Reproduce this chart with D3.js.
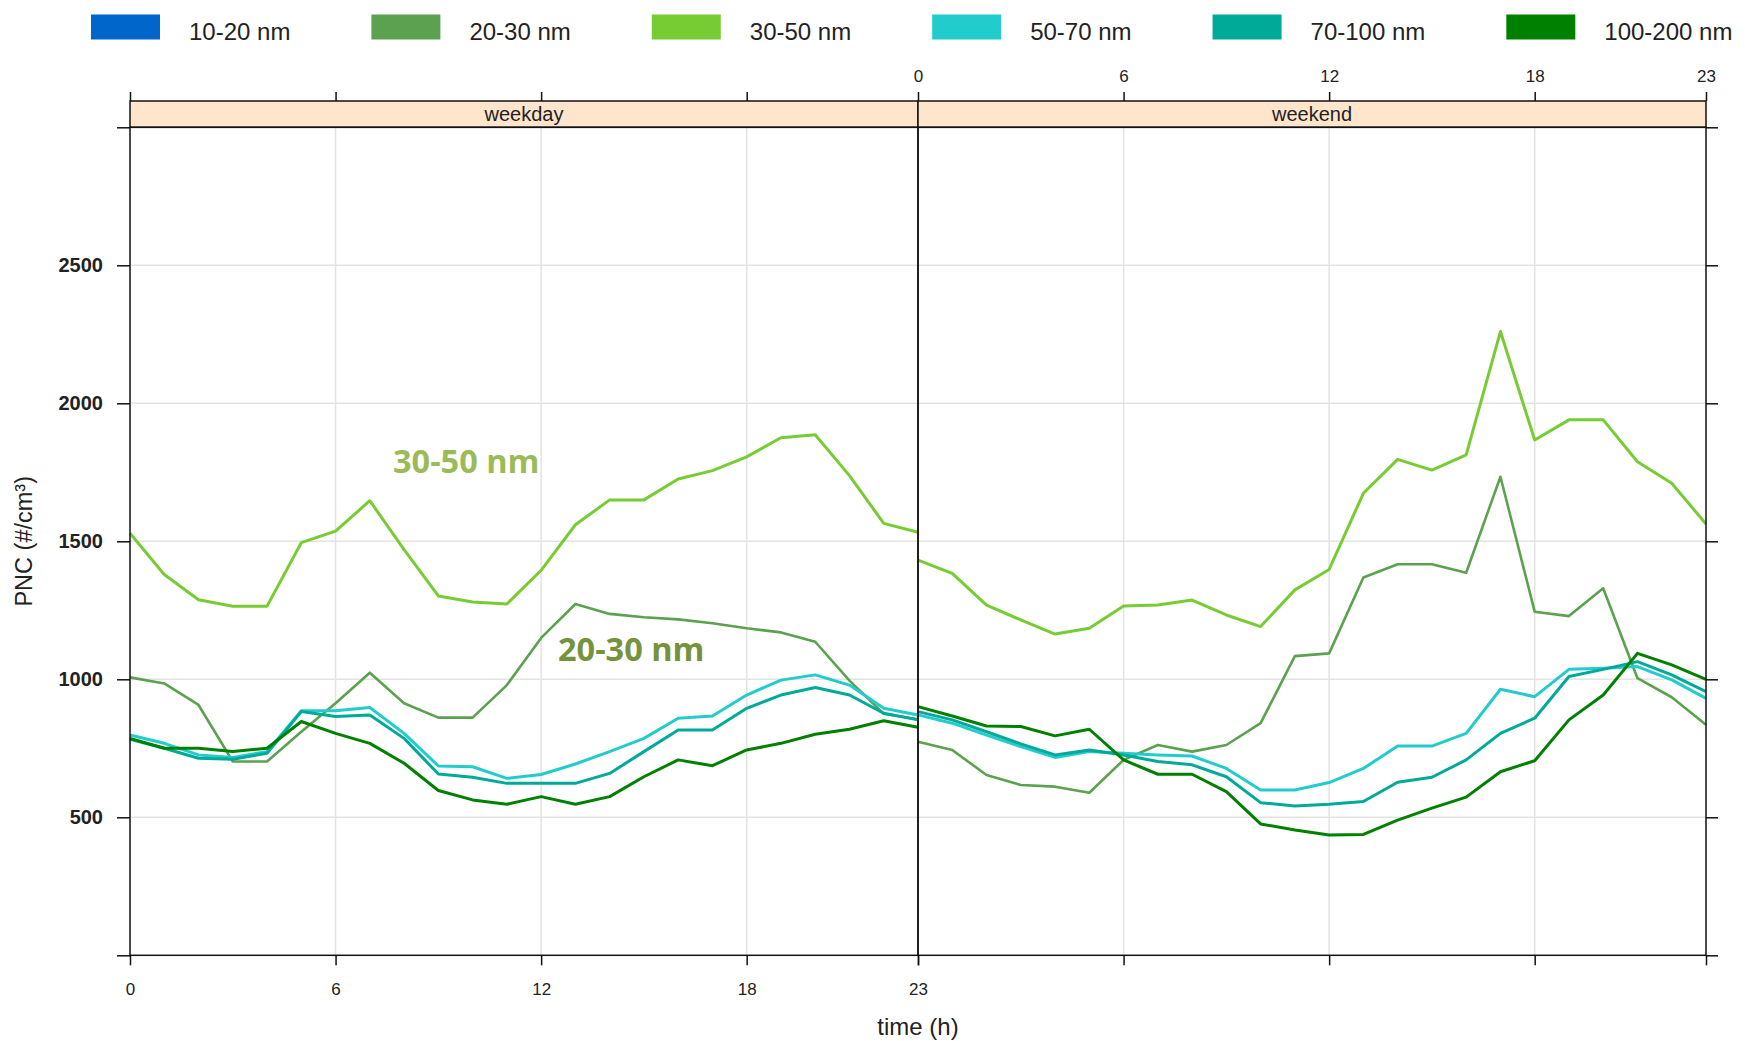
<!DOCTYPE html>
<html>
<head>
<meta charset="utf-8">
<script src="https://cdn.jsdelivr.net/npm/d3@7/dist/d3.min.js"></script>
<style>
  body { margin: 0; background: #fff; }
  svg { display: block; font-family: "Liberation Sans", Arial, sans-serif; }
</style>
</head>
<body>
<div id="my_dataviz"></div>
<script>
// hours of the day
const hours = [0, 1, 2, 3, 4, 5, 6, 7, 8, 9, 10, 11, 12, 13, 14, 15, 16, 17, 18, 19, 20, 21, 22, 23];
const sizeBins = ["10-20 nm", "20-30 nm", "30-50 nm", "50-70 nm", "70-100 nm", "100-200 nm"];
const binColors = ["#0066cc", "#5ba150", "#77cc33", "#22cccc", "#00aa99", "#008000"];
const dayTypes = ["weekday", "weekend"];

// PNC (#/cm3)
const weekday20_30 = [1007, 985, 907, 702, 702, 810, 913, 1024, 913, 861, 861, 979, 1150, 1273, 1237, 1225, 1217, 1203, 1185, 1170, 1136, 995, 875, 855];
const weekday30_50 = [1529, 1380, 1288, 1265, 1265, 1495, 1537, 1647, 1470, 1302, 1280, 1273, 1395, 1560, 1650, 1650, 1726, 1756, 1806, 1875, 1886, 1738, 1565, 1533];
const weekday50_70 = [798, 768, 726, 717, 738, 886, 886, 898, 804, 686, 683, 641, 655, 693, 738, 786, 859, 867, 943, 997, 1016, 979, 895, 871];
const weekday70_100 = [783, 750, 714, 710, 732, 883, 865, 871, 786, 657, 645, 623, 623, 623, 659, 738, 816, 816, 895, 943, 970, 943, 877, 853];
const weekday100_200 = [786, 750, 750, 738, 750, 847, 804, 768, 696, 597, 563, 547, 575, 547, 575, 647, 708, 687, 744, 768, 801, 819, 850, 826];

const weekend20_30 = [774, 744, 653, 617, 611, 589, 708, 762, 738, 762, 841, 1084, 1094, 1369, 1417, 1417, 1386, 1734, 1245, 1229, 1330, 1004, 935, 835];
const weekend30_50 = [1432, 1384, 1269, 1215, 1164, 1185, 1266, 1269, 1287, 1233, 1191, 1324, 1398, 1674, 1797, 1758, 1813, 2260, 1867, 1940, 1940, 1788, 1710, 1563];
const weekend50_70 = [871, 841, 798, 756, 717, 738, 732, 726, 722, 677, 599, 599, 626, 677, 758, 758, 804, 964, 937, 1036, 1040, 1046, 998, 931];
const weekend70_100 = [883, 853, 810, 766, 726, 744, 726, 702, 690, 647, 553, 541, 547, 557, 627, 645, 708, 804, 859, 1010, 1036, 1064, 1016, 955];
const weekend100_200 = [901, 867, 831, 829, 795, 819, 708, 656, 656, 593, 476, 454, 436, 438, 490, 533, 573, 665, 705, 853, 943, 1094, 1052, 1000];

const yTicks = [0, 500, 1000, 1500, 2000, 2500, 3000];
const yLabels = [500, 1000, 1500, 2000, 2500];
const xTicks = [0, 6, 12, 18, 23];
const gridHours = [6, 12, 18];
const gridValues = [500, 1000, 1500, 2000, 2500];

// 10-20 nm has no line in the figure
const series = [
  { bin: "20-30 nm", weekday: weekday20_30, weekend: weekend20_30, w: 2.6 },
  { bin: "30-50 nm", weekday: weekday30_50, weekend: weekend30_50, w: 3 },
  { bin: "50-70 nm", weekday: weekday50_70, weekend: weekend50_70, w: 3 },
  { bin: "70-100 nm", weekday: weekday70_100, weekend: weekend70_100, w: 3 },
  { bin: "100-200 nm", weekday: weekday100_200, weekend: weekend100_200, w: 3 }
];

const W = 1745, H = 1041;
const panelTop = 127.3, panelBottom = 955.3, stripTop = 101;
const panelX = [[130, 918], [918, 1706]];

const color = d3.scaleOrdinal().domain(sizeBins).range(binColors);

let svg = d3.select("#my_dataviz")
  .append("svg")
  .attr("width", W)
  .attr("height", H);

let y = d3.scaleLinear().domain([0, 3000]).range([panelBottom, panelTop]);
let xs = panelX.map(r => d3.scaleLinear().domain([0, 23]).range(r));

// grid
dayTypes.forEach((dt, i) => {
  let x = xs[i];
  svg.append("g").selectAll("line")
    .data(gridHours).enter().append("line")
    .attr("x1", d => x(d)).attr("x2", d => x(d))
    .attr("y1", panelTop).attr("y2", panelBottom)
    .attr("stroke", "#e3e3e3").attr("stroke-width", 1.5);
  svg.append("g").selectAll("line")
    .data(gridValues).enter().append("line")
    .attr("x1", x(0)).attr("x2", x(23))
    .attr("y1", d => y(d)).attr("y2", d => y(d))
    .attr("stroke", "#e3e3e3").attr("stroke-width", 1.5);
});

// lines
const line = (x) => d3.line()
  .x((d, j) => x(hours[j]))
  .y(d => y(d));

dayTypes.forEach((dt, i) => {
  svg.append("g")
    .selectAll("path")
    .data(series)
    .enter()
    .append("path")
    .attr("fill", "none")
    .attr("stroke", d => color(d.bin))
    .attr("stroke-width", d => d.w)
    .attr("stroke-linejoin", "round")
    .attr("d", d => line(xs[i])(d[dt]));
});

// panel frames and strips
dayTypes.forEach((dt, i) => {
  let x = xs[i];
  svg.append("rect")
    .attr("x", x(0)).attr("y", stripTop)
    .attr("width", x(23) - x(0)).attr("height", panelTop - stripTop)
    .attr("fill", "#ffe5cc").attr("stroke", "#111").attr("stroke-width", 1.5);
  svg.append("text")
    .attr("x", (x(0) + x(23)) / 2).attr("y", (stripTop + panelTop) / 2)
    .attr("dy", "0.35em")
    .attr("text-anchor", "middle")
    .style("font-size", "20px").style("fill", "#222")
    .text(dt);
  svg.append("rect")
    .attr("x", x(0)).attr("y", panelTop)
    .attr("width", x(23) - x(0)).attr("height", panelBottom - panelTop)
    .attr("fill", "none").attr("stroke", "#111").attr("stroke-width", 1.5);
});

function styleAxis(g, fs, weight) {
  g.select(".domain").remove();
  g.selectAll(".tick line").attr("stroke", "#111").attr("stroke-width", 1.5);
  g.selectAll(".tick text")
    .style("font-size", fs)
    .style("font-weight", weight)
    .style("font-family", "'Liberation Sans', Arial, sans-serif")
    .attr("fill", "#222");
}

// left axis
svg.append("g")
  .attr("transform", "translate(" + panelX[0][0] + ",0)")
  .call(d3.axisLeft(y).tickValues(yTicks).tickSize(13).tickPadding(14)
    .tickFormat(d => yLabels.includes(d) ? d : ""))
  .call(g => styleAxis(g, "20px", "bold"));

// right axis
svg.append("g")
  .attr("transform", "translate(" + panelX[1][1] + ",0)")
  .call(d3.axisRight(y).tickValues(yTicks).tickSize(12).tickFormat(""))
  .call(g => styleAxis(g, "20px", "bold"));

// bottom axes
svg.append("g")
  .attr("transform", "translate(0," + panelBottom + ")")
  .call(d3.axisBottom(xs[0]).tickValues(xTicks).tickSize(10).tickPadding(18))
  .call(g => styleAxis(g, "17px", "normal"));
svg.append("g")
  .attr("transform", "translate(0," + panelBottom + ")")
  .call(d3.axisBottom(xs[1]).tickValues(xTicks).tickSize(10).tickFormat(""))
  .call(g => styleAxis(g, "17px", "normal"));

// top axes
svg.append("g")
  .attr("transform", "translate(0," + stripTop + ")")
  .call(d3.axisTop(xs[0]).tickValues([0, 6, 12, 18]).tickSize(9).tickFormat(""))
  .call(g => styleAxis(g, "17px", "normal"));
svg.append("g")
  .attr("transform", "translate(0," + stripTop + ")")
  .call(d3.axisTop(xs[1]).tickValues(xTicks).tickSize(9).tickPadding(10))
  .call(g => styleAxis(g, "17px", "normal"));

// axis titles
svg.append("text")
  .attr("x", panelX[0][1]).attr("y", 1027)
  .attr("dy", "0.35em")
  .attr("text-anchor", "middle")
  .style("font-size", "24px").style("fill", "#222")
  .text("time (h)");

svg.append("text")
  .attr("transform", "translate(24," + ((panelTop + panelBottom) / 2) + ") rotate(-90)")
  .attr("dy", "0.35em")
  .attr("text-anchor", "middle")
  .style("font-size", "23.5px").style("fill", "#222")
  .text("PNC (#/cm³)");

// legend
let lx = 91;
sizeBins.forEach((b, i) => {
  svg.append("rect")
    .attr("x", lx).attr("y", 14.5)
    .attr("width", 69).attr("height", 25)
    .attr("fill", color(b));
  let t = svg.append("text")
    .attr("x", lx + 98).attr("y", 40)
    .style("font-size", "24px").style("fill", "#222")
    .text(b);
  lx = lx + 98 + t.node().getComputedTextLength() + 81;
});

// annotations
svg.append("text")
  .attr("x", 393).attr("y", 473)
  .style("font-family", "'Open Sans', sans-serif")
  .style("font-weight", "bold").style("font-size", "32.5px")
  .style("fill", "#9bbb59")
  .text("30-50 nm");
svg.append("text")
  .attr("x", 558).attr("y", 661)
  .style("font-family", "'Open Sans', sans-serif")
  .style("font-weight", "bold").style("font-size", "32.5px")
  .style("fill", "#76923c")
  .text("20-30 nm");
</script>
</body>
</html>
